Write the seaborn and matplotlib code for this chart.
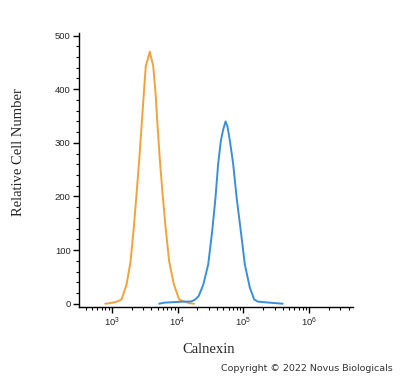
import numpy as np
import pandas as pd
import matplotlib
matplotlib.use("Agg")
import matplotlib.pyplot as plt
from matplotlib.ticker import LogLocator, MultipleLocator, NullFormatter, FixedLocator
import seaborn as sns

# log10(Calnexin intensity) and relative cell number
iso_log = [2.90, 2.97, 3.05, 3.10, 3.148, 3.224, 3.285, 3.335, 3.376, 3.416, 3.452, 3.487,
           3.517, 3.545, 3.578, 3.60, 3.629, 3.665, 3.696, 3.731, 3.772, 3.817, 3.872, 3.944,
           4.024, 4.10, 4.18, 4.25]
iso_cnt = [0, 1, 3, 5, 8, 36, 79, 143, 205, 267, 331, 393,
           444, 455, 470, 458, 444, 393, 331, 267, 205, 143, 79, 36,
           8, 4, 1, 0]

cal_log = [3.72, 3.80, 3.95, 4.10, 4.20, 4.26, 4.32, 4.39, 4.466, 4.527, 4.578, 4.618, 4.659,
           4.695, 4.731, 4.76, 4.796, 4.846, 4.898, 4.963, 5.024, 5.10, 5.166, 5.22, 5.30,
           5.40, 5.50, 5.60]
cal_cnt = [0, 2, 3, 4, 4, 7, 14, 35, 73, 135, 199, 261, 304,
           325, 340, 330, 304, 261, 199, 135, 73, 30, 8, 4, 3,
           2, 1, 0]

yticks = [0, 100, 200, 300, 400, 500]
xtick_exps = [3, 4, 5, 6]

df = pd.concat([
    pd.DataFrame({"x": np.power(10.0, iso_log), "y": iso_cnt, "s": "isotype"}),
    pd.DataFrame({"x": np.power(10.0, cal_log), "y": cal_cnt, "s": "calnexin"}),
])

sns.set_style("ticks")
plt.rcParams["mathtext.fontset"] = "custom"
plt.rcParams["mathtext.rm"] = "Liberation Sans"
plt.rcParams["mathtext.it"] = "Liberation Sans"
plt.rcParams["mathtext.default"] = "regular"

fig = plt.figure(figsize=(4.0, 3.78), dpi=100)
ax = fig.add_axes([0.1975, 0.188, 0.685, 0.725])

sns.lineplot(data=df, x="x", y="y", hue="s", palette={"isotype": "#F2A23A", "calnexin": "#3A8FD8"},
             linewidth=1.4, legend=False, ax=ax, sort=False, estimator=None)

ax.set_xscale("log")
ax.set_xlim(10 ** 2.5, 10 ** 6.67)
ax.set_ylim(-6, 505)

ax.xaxis.set_major_locator(FixedLocator([10.0 ** e for e in xtick_exps]))
ax.set_xticklabels([f"$10^{e}$" for e in xtick_exps])
ax.xaxis.set_minor_locator(LogLocator(base=10, subs=np.arange(2, 10)))
ax.xaxis.set_minor_formatter(NullFormatter())

ax.yaxis.set_major_locator(FixedLocator(yticks))
ax.set_yticklabels([str(v) for v in yticks])
ax.yaxis.set_minor_locator(MultipleLocator(20))

for s in ["top", "right"]:
    ax.spines[s].set_visible(False)
for s in ["left", "bottom"]:
    ax.spines[s].set_color("black")
    ax.spines[s].set_linewidth(1.0)

ax.tick_params(axis="both", which="major", length=4, width=1.0, color="black",
               labelsize=6.8, direction="out", pad=2)
ax.tick_params(axis="both", which="minor", length=2.5, width=0.8, color="black", direction="out")
for lab in ax.get_xticklabels() + ax.get_yticklabels():
    lab.set_fontfamily("Liberation Sans")

ax.set_xlabel("Calnexin", fontfamily="Liberation Serif", fontsize=10.5)
ax.set_ylabel("Relative Cell Number", fontfamily="Liberation Serif", fontsize=10.5)
ax.xaxis.set_label_coords(0.474, -0.131)
ax.yaxis.set_label_coords(-0.197, 0.566)

fig.text(0.982, 0.024, "Copyright © 2022 Novus Biologicals", ha="right", va="center",
         fontsize=6.8, color="#333333", fontfamily="DejaVu Sans")

fig.savefig("out.png", dpi=100)
